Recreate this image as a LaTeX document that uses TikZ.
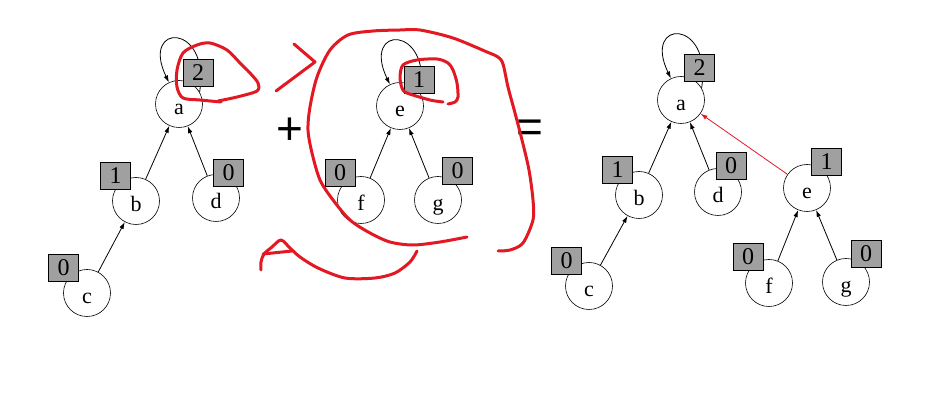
\documentclass[tikz,border=0pt]{standalone}
\usepackage{fontspec}
\setmainfont{Liberation Serif}
\newfontfamily\opfont{Liberation Sans}
\usetikzlibrary{arrows.meta}

\definecolor{penred}{RGB}{226,24,34}
\definecolor{rankgray}{RGB}{160,160,160}

\begin{document}
\begin{tikzpicture}[x=1pt, y=-1pt, >={Latex[length=7pt,width=4.5pt]},
    vertex/.style={draw, circle, minimum size=47pt, inner sep=0pt, line width=0.6pt,
      font=\fontsize{22}{24}\selectfont, text height=21pt, text depth=0pt},
    rank/.style={draw, fill=rankgray, minimum width=30pt, minimum height=27pt,
      inner sep=0pt, line width=0.6pt, font=\fontsize{24}{26}\selectfont},
    link/.style={->, line width=0.8pt},
    scribble/.style={penred, line width=3pt, line cap=round, line join=round}]
  \useasboundingbox (0,0) rectangle (951,411);

  % first tree
  \node[vertex] (la) at (179,104) {a};
  \node[vertex] (lb) at (136,201) {b};
  \node[vertex] (ld) at (216,198) {d};
  \node[vertex] (lc) at (87,293) {c};
  \draw[link] (lb) -- (la);
  \draw[link] (ld) -- (la);
  \draw[link] (lc) -- (lb);
  \draw[link] (la.30) .. controls +(11,-70) and +(-29,-60) .. (la.115);
  \node[rank] (rla) at (198,72.5) {2};
  \node[rank] (rlb) at (115.5,175.5) {1};
  \node[rank] (rld) at (228.5,173) {0};
  \node[rank] (rlc) at (63.5,267.5) {0};

  \node[font=\opfont\fontsize{46}{46}\selectfont] (plus) at (290,131) {+};

  % second tree
  \node[vertex] (me) at (400,106) {e};
  \node[vertex] (mf) at (361,200) {f};
  \node[vertex] (mg) at (438,200) {g};
  \draw[link] (mf) -- (me);
  \draw[link] (mg) -- (me);
  \draw[link] (me.30) .. controls +(11,-70) and +(-29,-60) .. (me.115);
  \node[rank] (rme) at (419,80) {1};
  \node[rank] (rmf) at (340,173) {0};
  \node[rank] (rmg) at (457.5,170.5) {0};

  \node[font=\opfont\fontsize{46}{46}\selectfont] (equals) at (530,131) {=};

  % union
  \node[vertex] (ra) at (681,100) {a};
  \node[vertex] (rb) at (639,195) {b};
  \node[vertex] (rd) at (718,192) {d};
  \node[vertex] (rc) at (589,286) {c};
  \node[vertex] (re) at (807,188) {e};
  \node[vertex] (rf) at (769,283) {f};
  \node[vertex] (rg) at (846,282) {g};
  \draw[link] (rb) -- (ra);
  \draw[link] (rd) -- (ra);
  \draw[link] (rc) -- (rb);
  \draw[link] (rf) -- (re);
  \draw[link] (rg) -- (re);
  \draw[link, penred] (re) -- (ra);
  \draw[link] (ra.30) .. controls +(11,-70) and +(-29,-60) .. (ra.115);
  \node[rank] (rra) at (699.5,68) {2};
  \node[rank] (rrb) at (617.5,170) {1};
  \node[rank] (rrd) at (731,166) {0};
  \node[rank] (rrc) at (566.5,261) {0};
  \node[rank] (rre) at (826.5,162) {1};
  \node[rank] (rrf) at (748,256.5) {0};
  \node[rank] (rrg) at (866,253.5) {0};

  % red pen marks
  \draw[scribble] plot[smooth] coordinates {(221,102) (200,100) (183,98) (177,87)
    (177,70) (183,53) (197,45) (210,43) (227,50) (240,63) (250,73) (258,83) (257,91)
    (237,97) (218,101)};
  \draw[scribble] (294,44) -- (315,62) -- (276,91);
  \draw[scribble] plot[smooth] coordinates {(467,237) (440,242) (413,245) (390,242)
    (370,233) (350,220) (333,200) (320,180) (312,153) (308,130) (310,107) (317,77)
    (330,50) (348,35) (373,31) (400,30) (420,30) (453,38) (487,52) (498,57) (503,64)
    (508,87) (515,113) (522,140) (529,170) (533,200) (533,220) (523,243) (510,250) (498,251)};
  \draw[scribble] plot[smooth] coordinates {(443,102) (430,100) (407,93) (402,88)
    (400,77) (403,65) (417,60) (437,59) (448,63) (453,70) (457,83) (458,97) (455,102)
    (448,104)};
  \draw[scribble] plot[smooth] coordinates {(417,251) (410,262) (395,273) (375,278)
    (345,278) (318,268) (300,257) (290,248) (281,240) (272,247) (264,254) (261,262) (261,270)};
  \draw[scribble] (263,254) -- (292,251);
\end{tikzpicture}
\end{document}
